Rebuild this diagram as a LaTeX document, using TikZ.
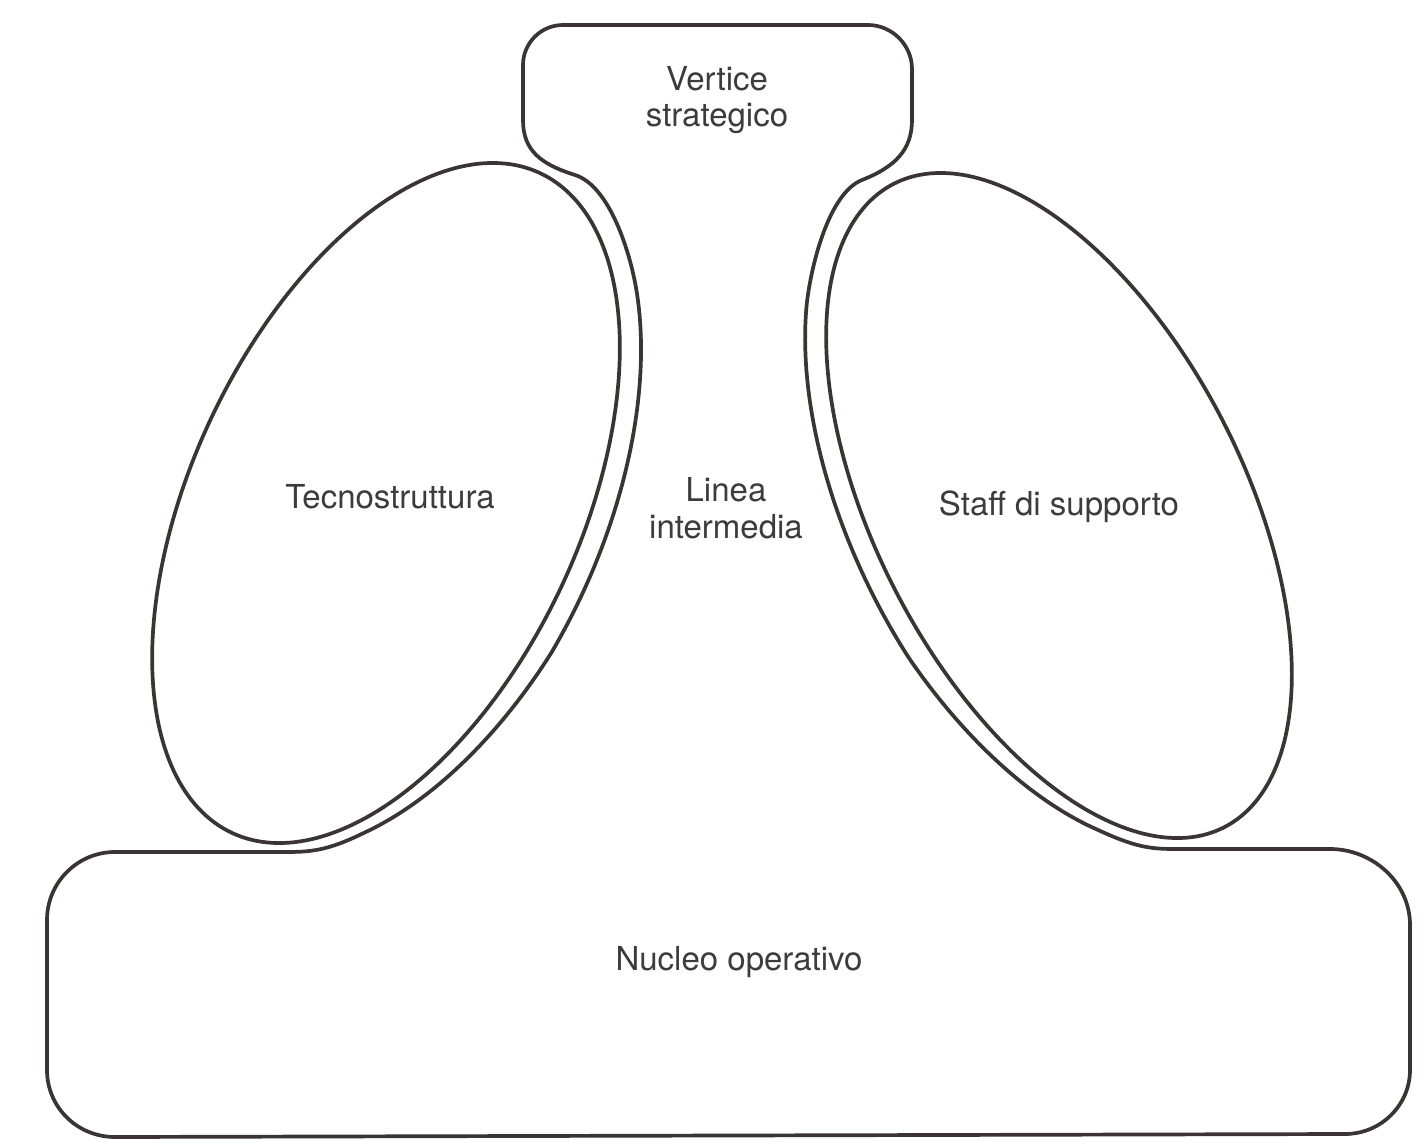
\documentclass[tikz,border=0pt]{standalone}
\usepackage{fontspec}
\setmainfont{TeX Gyre Heros}
\definecolor{linecol}{HTML}{3A3432}
\definecolor{textcol}{HTML}{3C3C3C}
\begin{document}
\begin{tikzpicture}[x=1pt,y=-1pt,
  outline/.style={draw=linecol, line width=3.7pt, line join=round, line cap=round},
  lbl/.style={text=textcol, font=\fontsize{33}{36.5}\selectfont, align=center, inner sep=0pt},
  declare function={
    dd(\t)=22-0.2*max(0,\t-100);
    LX(\t,\d)=386+(364.1+\d)*cos(\t)*cos(65)+(194.3+\d)*sin(\t)*sin(65);
    LY(\t,\d)=503-(364.1+\d)*cos(\t)*sin(65)+(194.3+\d)*sin(\t)*cos(65);
    RX(\t,\d)=1059-(361.7+\d)*cos(\t)*cos(62.8)-(184.4+\d)*sin(\t)*sin(62.8);
    RY(\t,\d)=505.5-(361.7+\d)*cos(\t)*sin(62.8)+(184.4+\d)*sin(\t)*cos(62.8);
  }]
\useasboundingbox (0,0) rectangle (1425,1142);
\fill[white] (0,0) rectangle (1425,1142);

\coordinate (L40) at ({LX(40,dd(40))},{LY(40,dd(40))});
\coordinate (L145) at ({LX(145,dd(145))},{LY(145,dd(145))});
\coordinate (R40) at ({RX(40,dd(40))},{RY(40,dd(40))});
\coordinate (R145) at ({RX(145,dd(145))},{RY(145,dd(145))});

% outer outline: nucleo operativo + linea intermedia + vertice strategico
\draw[outline]
  (115,852) -- (285,852)
  .. controls (310,852) and (327,851) .. (L145)
  -- plot[variable=\s, domain=0:1, samples=80] ({LX(145-105*\s,dd(145-105*\s))},{LY(145-105*\s,dd(145-105*\s))})
  .. controls (631,254) and (610,186) .. (575,175)
  .. controls (540,164) and (523,150) .. (523,120)
  -- (523,65)
  .. controls (523,43) and (541,25) .. (563,25)
  -- (868,25)
  .. controls (892,25) and (912,45) .. (912,69)
  -- (912,120)
  .. controls (912,150) and (895,167) .. (862,180)
  .. controls (829,193) and (811,265) .. (R40)
  -- plot[variable=\s, domain=0:1, samples=80] ({RX(40+105*\s,dd(40+105*\s))},{RY(40+105*\s,dd(40+105*\s))})
  .. controls (1135,847) and (1150,849) .. (1175,849)
  -- (1330,849)
  .. controls (1372,849) and (1410,882) .. (1410,925)
  -- (1410,1070)
  .. controls (1410,1105) and (1381,1134) .. (1345,1134)
  -- (115,1137)
  .. controls (77,1137) and (47,1107) .. (47,1070)
  -- (47,920)
  .. controls (47,882.5) and (77.5,852) .. (115,852)
  -- cycle;

% tecnostruttura
\draw[outline] plot[variable=\t, domain=0:360, samples=241] ({LX(\t,0)},{LY(\t,0)}) -- cycle;
% staff di supporto
\draw[outline] plot[variable=\t, domain=0:360, samples=241] ({RX(\t,0)},{RY(\t,0)}) -- cycle;

\node[lbl] (vs) at (717,100) {Vertice\\strategico};
\node[lbl] (tec) at (390,497) {Tecnostruttura};
\node[lbl] (li) at (726,508) {Linea\\intermedia};
\node[lbl] (staff) at (1059,507) {Staff di supporto};
\node[lbl] (nuc) at (739,962) {Nucleo operativo};
\end{tikzpicture}
\end{document}
